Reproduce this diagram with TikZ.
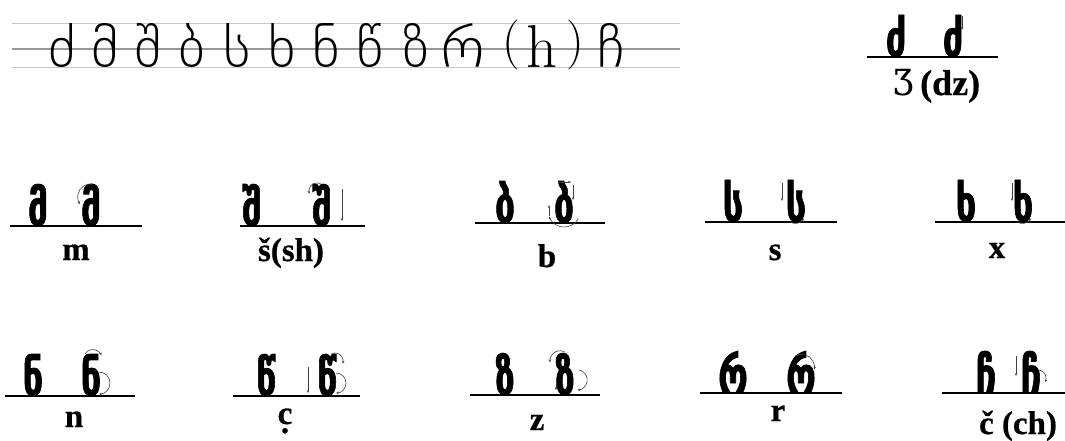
\documentclass[tikz,border=0pt]{standalone}
\usepackage{fontspec}
\usepackage{graphicx}
\usetikzlibrary{arrows.meta}
\setmainfont{Liberation Serif}[BoldFeatures={FakeBold=0.6}]
\newfontfamily\geo{DejaVu Sans}[BoldFeatures={FakeBold=1.6}]
\newfontfamily\geothin{DejaVuSans-ExtraLight.ttf}
\newfontfamily\ipafont{DejaVu Serif}
\newfontfamily\lmr{Latin Modern Roman}
\newsavebox\gbx
\newcommand\gnorm[2]{\sbox\gbx{#2}\ifdim\dimexpr\ht\gbx+\dp\gbx\relax>0.1pt\resizebox*{!}{#1}{\raisebox{\dp\gbx}{\usebox\gbx}}\else\usebox\gbx\fi}
\newcommand\thinL[1]{\gnorm{44pt}{\geothin\fontsize{40}{40}\selectfont #1}}
\newcommand\boldL[1]{\scalebox{0.72}[1]{\gnorm{42pt}{\geo\bfseries\fontsize{40}{40}\selectfont #1}}}
\newcommand\dotc{\oalign{c\crcr\hidewidth.\hidewidth}}
\begin{document}
\begin{tikzpicture}[x=1pt,y=-1pt,
  guidethin/.style={draw=black!22,line width=1pt},
  guidemid/.style={draw=black!40,line width=2pt},
  uline/.style={draw=black,line width=2pt},
  gl/.style={anchor=south,inner sep=0pt,outer sep=0pt},
  lab/.style={anchor=base,inner sep=0pt,font=\bfseries\fontsize{33}{33}\selectfont},
  strk/.style={draw=black!75,line width=0.6pt,-{Stealth[length=3pt,width=2.4pt]}}]
\useasboundingbox (0,0) rectangle (1065,440);
% guide lines of the top row
\draw[guidethin] (12,23) -- (680,23);
\draw[guidemid] (12,49) -- (680,49);
\draw[guidethin] (12,67) -- (680,67);
\foreach \x/\g [count=\i] in {62/ძ,105/მ,148/შ,192/ბ,237/ს,282/ხ,326/ნ,370/წ,416/ზ,463/რ,611/ჩ}
  \node[gl] (t\i) at (\x,67) {\thinL{\g}};
\node[gl] (th) at (542,67) {\gnorm{42pt}{\lmr\fontsize{40}{40}\selectfont h}};
\node[inner sep=0pt] (tpl) at (511,45.5) {\gnorm{50pt}{\lmr\fontsize{40}{40}\selectfont (}};
\node[inner sep=0pt] (tpr) at (575,45.5) {\gnorm{50pt}{\lmr\fontsize{40}{40}\selectfont )}};
% dz
\draw[uline] (867,57) -- (998,57);
\node[gl] (dz1) at (896,57) {\boldL{ძ}};
\node[gl] (dz2) at (953,57) {\boldL{ძ}};
\node[anchor=base,inner sep=0pt] (dzl) at (937,95) {{\ipafont\fontsize{36}{36}\selectfont Ʒ}\hspace{6pt}{\bfseries\fontsize{36}{36}\selectfont(dz)}};
% row 1
\draw[uline] (10,226) -- (142,226);
\node[gl] (m1) at (38,226) {\boldL{მ}};
\node[gl] (m2) at (91,226) {\boldL{მ}};
\node[lab] (ml) at (76,260) {m};
\draw[uline] (240,226) -- (365,226);
\node[gl] (sh1) at (252,226) {\boldL{შ}};
\node[gl] (sh2) at (322,226) {\boldL{შ}};
\node[lab] (shl) at (291,261) {š(sh)};
\draw[uline] (475,223) -- (605,223);
\node[gl] (b1) at (505,223) {\boldL{ბ}};
\node[gl] (b2) at (564,223) {\boldL{ბ}};
\node[lab] (bl) at (547,267) {b};
\draw[uline] (705,222) -- (837,222);
\node[gl] (s1) at (733,222) {\boldL{ს}};
\node[gl] (s2) at (796,222) {\boldL{ს}};
\node[lab] (sl) at (775,260) {s};
\draw[uline] (935,222) -- (1065,222);
\node[gl] (x1) at (966,222) {\boldL{ხ}};
\node[gl] (x2) at (1023,222) {\boldL{ხ}};
\node[lab] (xl) at (997,258) {x};
% row 2
\draw[uline] (5,396) -- (135,396);
\node[gl] (n1) at (33,396) {\boldL{ნ}};
\node[gl] (n2) at (91,396) {\boldL{ნ}};
\node[lab] (nl) at (74,427) {n};
\draw[uline] (233,396) -- (360,396);
\node[gl] (c1) at (266,396) {\boldL{წ}};
\node[gl] (c2) at (327,396) {\boldL{წ}};
\node[lab] (cl) at (285,424) {\dotc};
\draw[uline] (470,395) -- (600,395);
\node[gl] (z1) at (505,395) {\boldL{ზ}};
\node[gl] (z2) at (565,395) {\boldL{ზ}};
\node[lab] (zl) at (537,430) {z};
\draw[uline] (700,393) -- (842,393);
\node[gl] (r1) at (733,393) {\boldL{რ}};
\node[gl] (r2) at (801,393) {\boldL{რ}};
\node[lab] (rl) at (778,421) {r};
\draw[uline] (942,393) -- (1065,393);
\node[gl] (ch1) at (986,393) {\boldL{ჩ}};
\node[gl] (ch2) at (1031,393) {\boldL{ჩ}};
\node[lab] (chl) at (1018,434) {č (ch)};
% stroke-order arrows
\begin{scope}[shift={(m2.center)},y=1pt]
  \draw[strk] (2,21) arc[start angle=80,end angle=215,radius=13];
\end{scope}
\begin{scope}[shift={(sh2.center)},y=1pt]
  \draw[strk] (-1,21) arc[start angle=60,end angle=200,radius=8];
  \draw[strk] (20,16) -- (20,-16);
\end{scope}
\begin{scope}[shift={(b2.center)},y=1pt]
  \draw[strk] (-6,20) -- (7,20);
  \draw[strk] (9,17) -- (9,2);
  \draw[strk] (-15,-14) -- (-15,-3);
  \draw[strk] (14,-17) arc[start angle=-30,end angle=-160,radius=16];
\end{scope}
\begin{scope}[shift={(s2.center)},y=1pt]
  \draw[strk] (-14,18) -- (-14,0);
  \draw[strk] (-6,-21) arc[start angle=-120,end angle=-30,radius=10];
\end{scope}
\begin{scope}[shift={(x2.center)},y=1pt]
  \draw[strk] (-11,18) -- (-11,0);
  \draw[strk] (-6,-21) arc[start angle=-120,end angle=-30,radius=10];
\end{scope}
\begin{scope}[shift={(n2.center)},y=1pt]
  \draw[strk] (-6,21) arc[start angle=150,end angle=20,radius=9];
  \draw[strk] (8,3) arc[start angle=90,end angle=-90,radius=11];
\end{scope}
\begin{scope}[shift={(c2.center)},y=1pt]
  \draw[strk] (-19,8) -- (-19,-18);
  \draw[strk] (4,21) arc[start angle=120,end angle=-20,radius=8];
  \draw[strk] (9,2) arc[start angle=90,end angle=-90,radius=10];
\end{scope}
\begin{scope}[shift={(z2.center)},y=1pt]
  \draw[strk] (0,22) arc[start angle=60,end angle=190,radius=10];
  \draw[strk] (14,4) arc[start angle=80,end angle=-90,radius=10];
  \draw[strk] (-9,-4) -- (-9,-16);
\end{scope}
\begin{scope}[shift={(r2.center)},y=1pt]
  \draw[strk] (-6,16) arc[start angle=120,end angle=-10,radius=13];
\end{scope}
\begin{scope}[shift={(ch2.center)},y=1pt]
  \draw[strk] (-15,16) -- (-15,-4);
  \draw[strk] (7,2) arc[start angle=90,end angle=-30,radius=8];
\end{scope}
\begin{scope}[shift={(dz2.center)},y=1pt]
  \draw[strk] (9,20) -- (9,6);
\end{scope}
\end{tikzpicture}
\end{document}
